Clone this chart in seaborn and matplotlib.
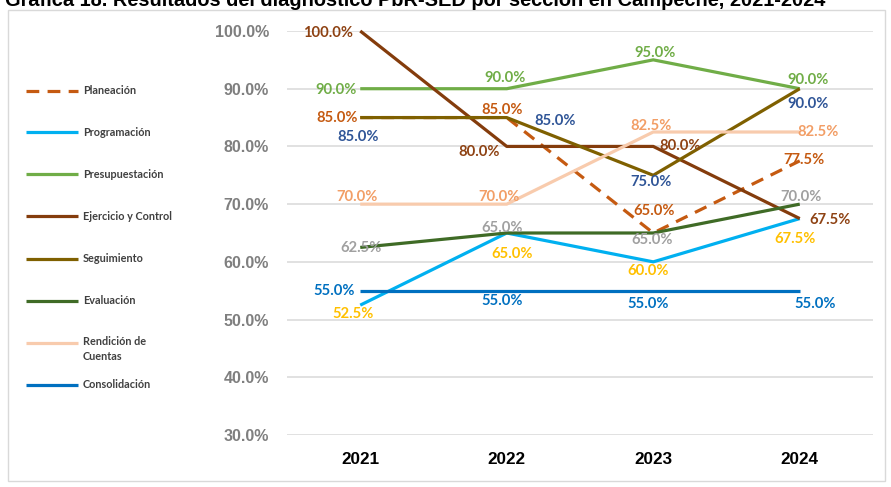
import matplotlib
matplotlib.use("Agg")
import numpy as np
import pandas as pd
import seaborn as sns
import matplotlib.pyplot as plt
from matplotlib.lines import Line2D
from matplotlib.patches import Rectangle
from matplotlib import font_manager

# ---------------- data ----------------
years = ["2021", "2022", "2023", "2024"]
planeacion = [85.0, 85.0, 65.0, 77.5]
programacion = [52.5, 65.0, 60.0, 67.5]
presupuestacion = [90.0, 90.0, 95.0, 90.0]
ejercicio = [100.0, 80.0, 80.0, 67.5]
seguimiento = [85.0, 85.0, 75.0, 90.0]
evaluacion = [62.5, 65.0, 65.0, 70.0]
rendicion = [70.0, 70.0, 82.5, 82.5]
consolidacion = [55.0, 55.0, 55.0, 55.0]
series_names = ["Planeación", "Programación", "Presupuestación", "Ejercicio y Control",
                "Seguimiento", "Evaluación", "Rendición de Cuentas", "Consolidación"]
legend_labels = ["Planeación", "Programación", "Presupuestación", "Ejercicio y Control",
                 "Seguimiento", "Evaluación", "Rendición de\nCuentas", "Consolidación"]
y_ticks = [30, 40, 50, 60, 70, 80, 90, 100]
title = "Gráfica 18. Resultados del diagnóstico PbR-SED por sección en Campeche, 2021-2024"

all_values = [planeacion, programacion, presupuestacion, ejercicio,
              seguimiento, evaluacion, rendicion, consolidacion]

# ---------------- styles ----------------
line_colors = ["#C55A11", "#00B0F0", "#70AD47", "#843C0C",
               "#7F6000", "#3F6B26", "#F8CBAD", "#0070C0"]
label_colors = ["#C55A11", "#FFC000", "#70AD47", "#8E4213",
                "#2F5597", "#A0A0A0", "#F29E66", "#0070C0"]
# label offsets in pixels (dx, dy up) and horizontal alignment
label_pos = [
    [(-2, 0, "right"), (-5, 8, "center"), (1, 22, "center"), (4, 1, "center")],
    [(-7, -9, "center"), (5, -21, "center"), (-5, -9, "center"), (-5, -20, "center")],
    [(-3, -1, "right"), (-2, 11, "center"), (2, 7, "center"), (8, 9, "center")],
    [(-7, -2, "right"), (-28, -6, "center"), (6, 0, "left"), (10, -1, "left")],
    [(-2, -19, "center"), (28, -3, "left"), (-2, -7, "center"), (8, -15, "center")],
    [(1, -1, "center"), (-5, 5, "center"), (-1, -7, "center"), (1, 7, "center")],
    [(-3, 7, "center"), (-8, 7, "center"), (-2, 5.5, "center"), (-2, -0.5, "left")],
    [(-5, 0, "right"), (-5, -10, "center"), (-5, -13, "center"), (15, -13, "center")],
]

def has_font(name):
    try:
        font_manager.findfont(name, fallback_to_default=False)
        return True
    except Exception:
        return False

label_font = "Lato" if has_font("Lato") else "DejaVu Sans"
tick_font = "Liberation Sans"

sns.set_theme(style="white")
plt.rcParams["font.family"] = ["Liberation Sans", "DejaVu Sans"]

W, H = 891, 487
fig = plt.figure(figsize=(W / 100, H / 100), dpi=100)
ax = fig.add_axes([287 / W, 1 - 435 / H, (873 - 287) / W, (435 - 31) / H])

# ---------------- long dataframe ----------------
rows = []
for name, vals in zip(series_names, all_values):
    for i, (yr, v) in enumerate(zip(years, vals)):
        rows.append({"Año": i, "Sección": name, "Valor": v})
df = pd.DataFrame(rows)

palette = dict(zip(series_names, line_colors))
dashes = {n: "" for n in series_names}
dashes["Planeación"] = (4, 2.6)

sns.lineplot(data=df, x="Año", y="Valor", hue="Sección", style="Sección",
             hue_order=series_names, style_order=series_names,
             palette=palette, dashes=dashes, linewidth=2.3, legend=False,
             ax=ax, sort=False)
for ln in ax.get_lines():
    ln.set_solid_capstyle("butt")
    ln.set_dash_capstyle("butt")
    ln.set_clip_on(False)

ax.set_xlim(-0.5, len(years) - 0.5)
ax.set_ylim(30, 100)
ax.set_yticks(y_ticks)
ax.set_yticklabels([f"{t:.1f}%" for t in y_ticks])
ax.set_xticks(range(len(years)))
ax.set_xticklabels(years)
ax.set_xlabel("")
ax.set_ylabel("")
ax.grid(axis="y", color="#D9D9D9", linewidth=1.1)
ax.grid(axis="x", visible=False)
ax.set_axisbelow(True)
for s in ax.spines.values():
    s.set_visible(False)
ax.tick_params(axis="both", length=0)
ax.tick_params(axis="y", pad=13)
ax.tick_params(axis="x", pad=12)
for t in ax.get_yticklabels():
    t.set_fontfamily(tick_font)
    t.set_fontweight("bold")
    t.set_fontsize(11.5)
    t.set_color("#7F7F7F")
for t in ax.get_xticklabels():
    t.set_fontfamily(tick_font)
    t.set_fontweight("bold")
    t.set_fontsize(12.3)
    t.set_color("#000000")

# ---------------- data labels ----------------
px = 0.72
for k, vals in enumerate(all_values):
    for i, v in enumerate(vals):
        dx, dy, ha = label_pos[k][i]
        ax.annotate(f"{v:.1f}%", xy=(i, v), xytext=(dx * px, dy * px),
                    textcoords="offset points", ha=ha, va="center",
                    fontsize=10.6, fontweight="bold", family=label_font,
                    color=label_colors[k], annotation_clip=False)

# ---------------- legend (manual) ----------------
leg_y = [91, 132, 174, 216, 259, 301, 343, 385]
for k, (lab, y) in enumerate(zip(legend_labels, leg_y)):
    ls = (0, (4, 2.6)) if series_names[k] == "Planeación" else "-"
    fig.add_artist(Line2D([26 / W, 78 / W], [1 - y / H, 1 - y / H], color=line_colors[k],
                          linewidth=2.3, linestyle=ls, solid_capstyle="butt",
                          dash_capstyle="butt", transform=fig.transFigure))
    if "\n" in lab:
        fig.text(83 / W, 1 - (y - 7) / H, lab, ha="left", va="top", fontsize=7.8,
                 fontweight="bold", family=label_font, color="#404040", linespacing=1.5)
    else:
        fig.text(83 / W, 1 - y / H, lab, ha="left", va="center", fontsize=7.8,
                 fontweight="bold", family=label_font, color="#404040")

# ---------------- frame & title ----------------
fig.add_artist(Rectangle((8 / W, 1 - 481 / H), (885 - 8) / W, (481 - 10) / H,
                         transform=fig.transFigure, fill=False,
                         edgecolor="#D9D9D9", linewidth=1))
fig.text(5 / W, 1 - 6 / H, title, ha="left", va="baseline", fontsize=14.4,
         fontweight="bold", color="#000000", family="Liberation Sans")

fig.savefig("out.png", dpi=100)
